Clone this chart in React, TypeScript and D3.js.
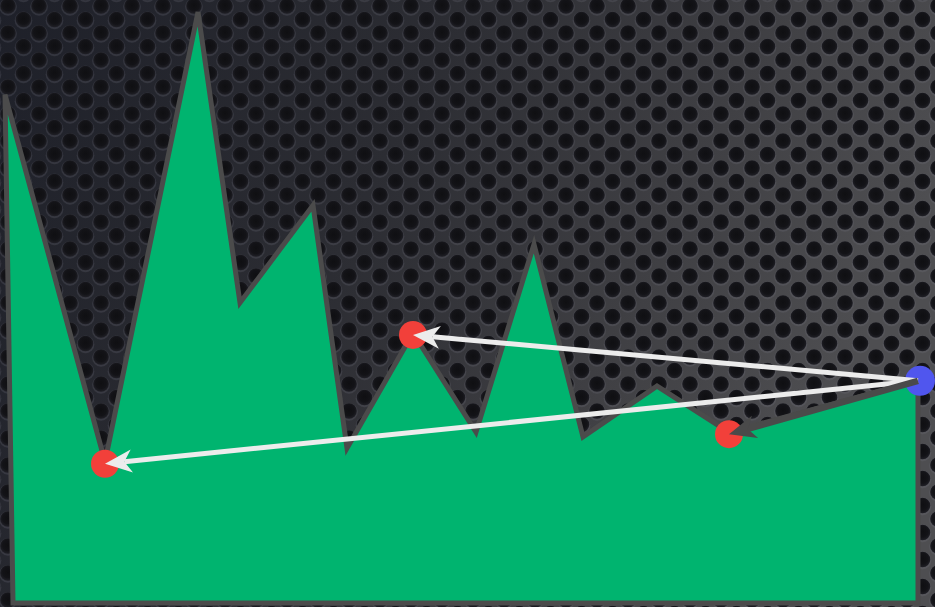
import React from "react";
import * as d3 from "d3";

const W = 935;
const H = 607;

// data
const xValues = [0, 100, 193, 235, 308, 342, 408, 471, 529, 578, 652, 724, 913];
const yValues = [86, 23.9, 100, 50.8, 67.3, 26.2, 45.7, 28.9, 60.7, 28.1, 36.7, 28.9, 37.6];
const baselineX = [8, 913];
const redIdx = [1, 6, 11];
const blueIdx = 12;
const arrowTargets = [6, 1, 11];
const arrowColors = ["#ececec", "#ececec", "#4a4a4a"];
const arrowWidths = [5, 5, 6.5];

const x = d3.scaleLinear().domain([0, 915]).range([5, 920]);
const y = d3.scaleLinear().domain([0, 100]).range([603, 12]);

function arrowHead(sx: number, sy: number, tx: number, ty: number, L: number, Wd: number) {
  const dx = tx - sx, dy = ty - sy;
  const len = Math.hypot(dx, dy);
  const ux = dx / len, uy = dy / len;
  const nx = -uy, ny = ux;
  const bx = tx - L * ux, by = ty - L * uy;
  const mx = tx - 0.72 * L * ux, my = ty - 0.72 * L * uy;
  const pts: [number, number][] = [
    [tx, ty],
    [bx + Wd * nx, by + Wd * ny],
    [mx, my],
    [bx - Wd * nx, by - Wd * ny],
  ];
  return { d: d3.line()(pts) + "Z", end: [mx, my] };
}

const PW = 31;
const PH = 27;

export default function App() {
  const pts: [number, number][] = xValues.map((v, i) => [x(v), y(yValues[i])]);
  const poly: [number, number][] = [
    [x(baselineX[0]), y(0)],
    ...pts,
    [x(baselineX[1]), y(0)],
  ];
  const areaPath = d3.line()(poly) + "Z";
  const [bxp, byp] = pts[blueIdx];

  const holeCenters: [number, number][] = [
    [0, 0], [PW, 0], [PW / 2, PH / 2], [0, PH], [PW, PH],
  ];

  return (
    <svg width={W} height={H} style={{ position: "absolute", left: 0, top: 0 }}>
      <defs>
        <linearGradient id="metal" x1="0" y1="0" x2="1" y2="0.3">
          <stop offset="0" stopColor="#1e2029" />
          <stop offset="0.45" stopColor="#2c2d33" />
          <stop offset="0.75" stopColor="#3f3f43" />
          <stop offset="1" stopColor="#4e4e51" />
        </linearGradient>
        <radialGradient id="hole" cx="0.5" cy="0.45" r="0.5">
          <stop offset="0" stopColor="#0f0f12" />
          <stop offset="0.7" stopColor="#131317" />
          <stop offset="1" stopColor="#1d1d23" />
        </radialGradient>
        <pattern id="holes" x="8" y="6" width={PW} height={PH} patternUnits="userSpaceOnUse">
          {holeCenters.map(([cx, cy], i) => (
            <g key={i}>
              <circle cx={cx} cy={cy + 0.9} r={8.8} fill="rgba(120,120,130,0.22)" />
              <circle cx={cx} cy={cy} r={7.8} fill="url(#hole)" />
            </g>
          ))}
        </pattern>
      </defs>
      <rect width={W} height={H} fill="url(#metal)" />
      <rect width={W} height={H} fill="url(#holes)" />

      <path d={areaPath} fill="#00b46f" stroke="#4b4b4b" strokeWidth={5} strokeLinejoin="miter" />

      {redIdx.map((i) => (
        <circle key={i} cx={pts[i][0]} cy={pts[i][1] + 2} r={14} fill="#f2403a" />
      ))}
      <circle cx={bxp + 2} cy={byp} r={15} fill="#5056ee" />

      {arrowTargets.map((t, k) => {
        const tx = pts[t][0];
        const ty = pts[t][1] + 2;
        const h = arrowHead(bxp, byp, tx, ty, 27, 11.5);
        return (
          <g key={t}>
            <line x1={bxp} y1={byp} x2={h.end[0]} y2={h.end[1]} stroke={arrowColors[k]} strokeWidth={arrowWidths[k]} />
            <path d={h.d} fill={arrowColors[k]} />
          </g>
        );
      })}
    </svg>
  );
}
